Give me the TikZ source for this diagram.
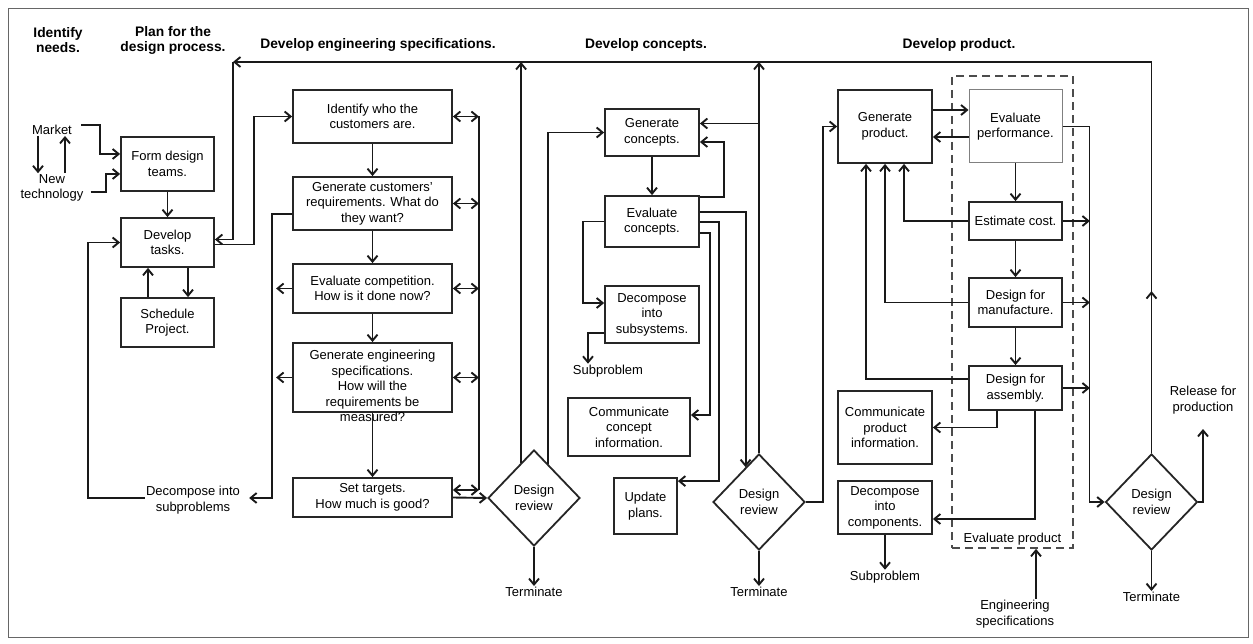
\documentclass[tikz,border=0pt]{standalone}
\usepackage{fontspec}
\setmainfont{Liberation Sans}
\usetikzlibrary{arrows.meta, positioning, shapes.geometric}
\newcommand{\boxfont}{\fontsize{13}{15.5}\selectfont}
\newcommand{\headfont}{\fontsize{13.8}{15}\selectfont\bfseries}
\tikzset{
    box/.style={rectangle, draw=black!85, line width=1.8pt, fill=white, align=center, inner sep=1pt, font=\boxfont},
    decision/.style={diamond, draw=black!85, line width=1.8pt, fill=white, minimum width=92pt, minimum height=96pt, inner sep=0pt, align=center, font=\boxfont},
    lbl/.style={align=center, inner sep=1pt, font=\boxfont},
    head/.style={align=center, inner sep=1pt, font=\headfont},
    dashbox/.style={rectangle, draw=black!70, line width=1.8pt, dash pattern=on 8pt off 5pt},
    wire/.style={line width=1.9pt, draw=black!90},
    arrow/.style={-{Straight Barb[length=6pt,width=10pt]}, line width=1.9pt, draw=black!90},
    biarrow/.style={{Straight Barb[length=6pt,width=10pt]}-{Straight Barb[length=6pt,width=10pt]}, line width=1.9pt, draw=black!90}
}

\begin{document}
\begin{tikzpicture}[x=1pt, y=-1pt]
    \useasboundingbox (0,0) rectangle (1253,644);
    \draw[black!60, line width=0.9pt] (8,8) rectangle (1248,637);

    % headings
    \node[head] (hneeds) at (58,40) {Identify\\needs.};
    \node[head] (hplan) at (173,40) {Plan for the\\design process.};
    \node[head] (hspecs) at (378,45) {Develop engineering specifications.};
    \node[head] (hconcepts) at (646,45) {Develop concepts.};
    \node[head] (hproduct) at (959,45) {Develop product.};

    % plan for the design process
    \node[lbl] (market) at (52,130) {Market};
    \node[lbl] (newtech) at (52,188) {New\\technology};
    \node[box, minimum width=93pt, minimum height=54pt] (form) at (167.5,164) {Form design\\teams.};
    \node[box, minimum width=93pt, minimum height=49pt] (tasks) at (167.5,242.5) {Develop\\tasks.};
    \node[box, minimum width=93pt, minimum height=49pt] (sched) at (167.5,322.5) {Schedule\\Project.};
    \node[lbl] (decsub) at (193,500) {Decompose into\\subproblems};

    % engineering specifications
    \node[box, minimum width=159pt, minimum height=53pt] (who) at (372.5,116.5) {Identify who the\\customers are.};
    \node[box, minimum width=159pt, minimum height=53pt] (req) at (372.5,203.5) {Generate customers'\\requirements. What do\\they want?};
    \node[box, minimum width=159pt, minimum height=49pt] (comp) at (372.5,288.5) {Evaluate competition.\\How is it done now?};
    \node[box, minimum width=159pt, minimum height=69pt] (spec) at (372.5,377.5) {};
    \node[lbl] (spectxt) at (372.5,386) {Generate engineering\\specifications.\\How will the\\requirements be\\measured?};
    \node[box, minimum width=159pt, minimum height=39pt] (targ) at (372.5,497.5) {Set targets.\\How much is good?};
    \node[decision] (rev1) at (534,498) {Design\\review};
    \node[lbl] (term1) at (534,592) {Terminate};

    % concepts
    \node[box, minimum width=94pt, minimum height=47pt] (genc) at (652,132.5) {Generate\\concepts.};
    \node[box, minimum width=94pt, minimum height=51pt] (evalc) at (652,221.5) {Evaluate\\concepts.};
    \node[box, minimum width=94pt, minimum height=57pt] (decs) at (652,314.5) {Decompose\\into\\subsystems.};
    \node[lbl] (sub1) at (608,371) {Subproblem};
    \node[box, minimum width=122pt, minimum height=58pt] (commc) at (629,427) {Communicate\\concept\\information.};
    \node[box, minimum width=63pt, minimum height=56pt] (upd) at (645.5,506) {Update\\plans.};
    \node[decision] (rev2) at (759,502) {Design\\review};
    \node[lbl] (term2) at (759,592) {Terminate};

    % product
    \node[dashbox, minimum width=121pt, minimum height=472pt] (evalbox) at (1012.5,312) {};
    \node[lbl, anchor=south] (evlabel) at ([yshift=3pt]evalbox.south) {Evaluate product};
    \node[box, minimum width=94pt, minimum height=73pt] (genp) at (885,126.5) {Generate\\product.};
    \node[box, draw=black!50, line width=1pt, minimum width=93pt, minimum height=73pt] (evalp) at (1015.5,126.5) {Evaluate\\performance.};
    \node[box, minimum width=93pt, minimum height=38pt] (cost) at (1015.5,221) {Estimate cost.};
    \node[box, minimum width=93pt, minimum height=49pt] (manuf) at (1015.5,302.5) {Design for\\manufacture.};
    \node[box, minimum width=93pt, minimum height=44pt] (assem) at (1015.5,388) {Design for\\assembly.};
    \node[box, minimum width=94pt, minimum height=73pt] (commp) at (885,427.5) {Communicate\\product\\information.};
    \node[box, minimum width=94pt, minimum height=53pt] (decc) at (885,507.5) {Decompose\\into\\components.};
    \node[lbl] (sub2) at (885,577) {Subproblem};
    \node[lbl] (engspec) at (1015,614) {Engineering\\specifications};
    \node[decision] (rev3) at (1151.5,502) {Design\\review};
    \node[lbl] (term3) at (1151.5,597) {Terminate};
    \node[lbl] (release) at (1203,400) {Release for\\production};

    % return path along the top
    \coordinate (topleft) at (233,62);
    \coordinate (topright) at (1151.5,62);
    \draw[wire] (rev3.north) -- (topright);
    \draw[arrow] (rev3.north) -- ++(0,-162);
    \draw[arrow] (topright) -- (topleft);
    \draw[arrow] (topleft) |- ([yshift=3pt]tasks.east);
    \draw[arrow] (rev1.110) -- (rev1.110 |- topleft);
    \draw[arrow] (rev2.north) -- (rev2.north |- topleft);

    % plan
    \draw[arrow] ([xshift=8pt,yshift=5pt]market.east) -| ([xshift=-20pt,yshift=10pt]form.west) -- ([yshift=10pt]form.west);
    \draw[arrow] ([xshift=6pt,yshift=-4pt]newtech.east) -| ([xshift=-14pt,yshift=-10pt]form.west) -- ([yshift=-10pt]form.west);
    \draw[arrow] ([xshift=-14pt]market.south) -- ([xshift=-14pt]newtech.north);
    \draw[arrow] ([xshift=13pt]newtech.north) -- ([xshift=13pt]market.south);
    \draw[arrow] (form) -- (tasks);
    \draw[arrow] ([xshift=-19.5pt]sched.north) -- ([xshift=-19.5pt]tasks.south);
    \draw[arrow] ([xshift=20.5pt]tasks.south) -- ([xshift=20.5pt]sched.north);
    \draw[arrow] ([yshift=-2pt]tasks.east) -- ++(39,0) |- (who.west);
    \draw[arrow] ([yshift=2pt]decsub.west) -- ++(-57,0) |- (tasks.west);

    % engineering specifications
    \draw[arrow] (who) -- (req);
    \draw[arrow] (req) -- (comp);
    \draw[arrow] (comp) -- (spec);
    \draw[arrow] (spec) -- (targ);
    \draw[wire] ([xshift=26pt]who.east) -- ([xshift=26pt,yshift=7.5pt]targ.east);
    \draw[biarrow] (who.east) -- ++(26,0);
    \draw[biarrow] (req.east) -- ++(26,0);
    \draw[biarrow] (comp.east) -- ++(26,0);
    \draw[biarrow] (spec.east) -- ++(26,0);
    \draw[biarrow] ([yshift=7.5pt]targ.east) -- ++(26,0);
    \draw[arrow] ([yshift=-10.5pt]req.west) -- ++(-20,0) |- ([xshift=8pt,yshift=2pt]decsub.east);
    \draw[arrow] (comp.west) -- ++(-16,0);
    \draw[arrow] (spec.west) -- ++(-16,0);
    \draw[arrow] (targ.east) -- (rev1.west);
    \draw[arrow] (rev1.south) -- (term1.north);

    % concepts
    \draw[arrow] (rev1.67) |- (genc.west);
    \draw[arrow] (genc) -- (evalc);
    \draw[arrow] ([yshift=-2pt]evalc.north east) -- ++(24,0) |- ([yshift=-9.5pt]genc.east);
    \draw[arrow] ([yshift=9pt]genc.east -| rev2.north) -- ([yshift=9pt]genc.east);
    \draw[arrow] (evalc.west) -- ++(-21,0) |- ([yshift=11.5pt]decs.west);
    \draw[arrow] ([yshift=-18.5pt]decs.west) -| ([xshift=-20pt]sub1.north);
    \draw[arrow] ([yshift=9.5pt]evalc.east) -| (rev2.111);
    \draw[arrow] ([yshift=-0.5pt]evalc.east) -- ++(19,0) |- ([yshift=-4pt]upd.north east);
    \draw[arrow] ([yshift=-11.5pt]evalc.east) -- ++(10,0) |- ([yshift=12pt]commc.east);
    \draw[arrow] (rev2.south) -- (term2.north);

    % product
    \draw[arrow] (rev2.east) -- ++(17,0) |- (genp.west);
    \draw[arrow] ([yshift=16.5pt]genp.east) -- ([yshift=16.5pt]evalp.west);
    \draw[arrow] ([yshift=-10.5pt]evalp.west) -- ([yshift=-10.5pt]genp.east);
    \draw[arrow] (evalp) -- (cost);
    \draw[arrow] (cost) -- (manuf);
    \draw[arrow] (manuf) -- (assem);
    \draw[arrow] (cost.west) -| ([xshift=19pt]genp.south);
    \draw[arrow] (manuf.west) -| (genp.south);
    \draw[arrow] ([yshift=9pt]assem.west) -| ([xshift=-19pt]genp.south);
    \draw[arrow] ([xshift=-18.5pt]assem.south) |- (commp.east);
    \draw[arrow] ([xshift=19.5pt]assem.south) |- ([yshift=-11.5pt]decc.east);
    \draw[arrow] (decc.south) -- (sub2.north);
    \draw[arrow] ([xshift=21pt]engspec.north) -- ([xshift=21pt]engspec.north |- evalbox.south);
    \draw[arrow] (evalp.east) -- ++(27,0) |- (rev3.west);
    \draw[arrow] (cost.east) -- ++(27,0);
    \draw[arrow] (manuf.east) -- ++(27,0);
    \draw[arrow] (assem.east) -- ++(27,0);
    \draw[arrow] (rev3.south) -- (term3.north);
    \draw[arrow] (rev3.east) -| ([yshift=-14pt]release.south);
\end{tikzpicture}
\end{document}
